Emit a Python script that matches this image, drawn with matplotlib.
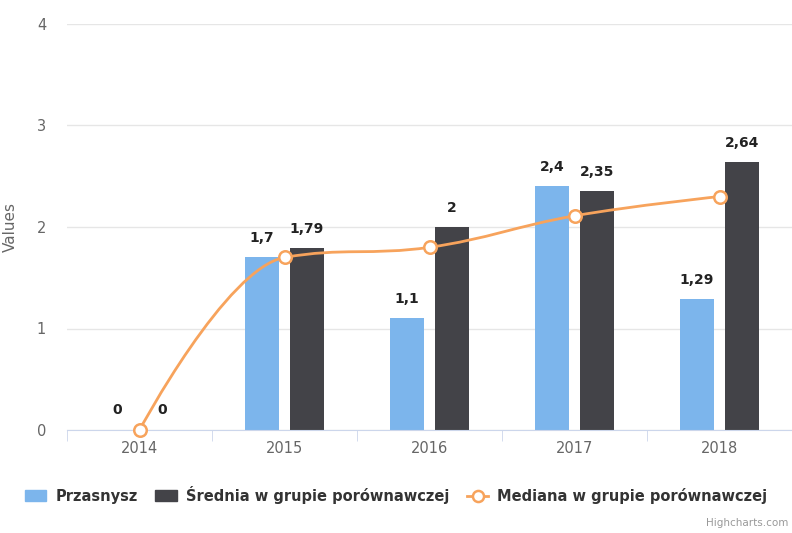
import matplotlib.pyplot as plt
from matplotlib.path import Path
from matplotlib.patches import PathPatch
from matplotlib.lines import Line2D
from matplotlib.patches import Patch
import numpy as np

years = ["2014", "2015", "2016", "2017", "2018"]
przasnysz = [0, 1.7, 1.1, 2.4, 1.29]
srednia = [0, 1.79, 2, 2.35, 2.64]
mediana = [0, 1.70, 1.80, 2.11, 2.30]
labels_p = ["0", "1,7", "1,1", "2,4", "1,29"]
labels_s = ["0", "1,79", "2", "2,35", "2,64"]

blue = "#7cb5ec"
dark = "#434348"
orange = "#f7a35c"


def spline_path(xs, ys, smoothing=1.5):
    # highcharts-like spline control points
    n = len(xs)
    left = [(xs[i], ys[i]) for i in range(n)]
    right = [(xs[i], ys[i]) for i in range(n)]
    d = smoothing + 1
    for i in range(1, n - 1):
        px, py = xs[i], ys[i]
        lx, ly = xs[i - 1], ys[i - 1]
        nx, ny = xs[i + 1], ys[i + 1]
        lcx = (smoothing * px + lx) / d
        lcy = (smoothing * py + ly) / d
        rcx = (smoothing * px + nx) / d
        rcy = (smoothing * py + ny) / d
        corr = (rcy - lcy) * (rcx - px) / (rcx - lcx) + py - rcy
        lcy += corr
        rcy += corr
        if lcy > ly and lcy > py:
            lcy = max(ly, py)
            rcy = 2 * py - lcy
        elif lcy < ly and lcy < py:
            lcy = min(ly, py)
            rcy = 2 * py - lcy
        if rcy > ny and rcy > py:
            rcy = max(ny, py)
            lcy = 2 * py - rcy
        elif rcy < ny and rcy < py:
            rcy = min(ny, py)
            lcy = 2 * py - rcy
        left[i] = (lcx, lcy)
        right[i] = (rcx, rcy)
    verts = [(xs[0], ys[0])]
    codes = [Path.MOVETO]
    for i in range(1, n):
        verts += [right[i - 1], left[i], (xs[i], ys[i])]
        codes += [Path.CURVE4] * 3
    return Path(verts, codes)


fig = plt.figure(figsize=(7.92, 5.33), dpi=100)
ax = fig.add_axes([67 / 792, 103 / 533, 725 / 792, 406 / 533])

x = np.arange(len(years))
w = 0.24
off = 0.155
ax.bar(x - off, przasnysz, w, color=blue, zorder=2)
ax.bar(x + off, srednia, w, color=dark, zorder=2)

for i in range(len(years)):
    ax.annotate(labels_p[i], (x[i] - off, przasnysz[i]), xytext=(0, 9),
                textcoords="offset points", ha="center", va="bottom",
                fontsize=10, fontweight="bold", color="#222222", zorder=5)
    ax.annotate(labels_s[i], (x[i] + off, srednia[i]), xytext=(0, 9),
                textcoords="offset points", ha="center", va="bottom",
                fontsize=10, fontweight="bold", color="#222222", zorder=5)

ax.add_patch(PathPatch(spline_path(list(x), mediana), fill=False,
                       edgecolor=orange, lw=2, zorder=3))
ax.plot(x, mediana, linestyle="none", marker="o", markersize=9,
        markerfacecolor="white", markeredgecolor=orange, markeredgewidth=1.8,
        zorder=4, clip_on=False)

ax.set_xlim(-0.5, len(years) - 0.5)
ax.set_ylim(0, 4)
ax.set_yticks([0, 1, 2, 3, 4])
ax.set_xticks(x)
ax.set_xticklabels(years)
ax.set_xticks(np.arange(-0.5, len(years)), minor=True)
ax.tick_params(axis="x", which="major", length=0, pad=8, labelsize=10.5,
               labelcolor="#666666")
ax.tick_params(axis="x", which="minor", length=8, color="#ccd6eb")
ax.tick_params(axis="y", length=0, pad=15, labelsize=10.5, labelcolor="#666666")
ax.grid(axis="y", color="#e6e6e6", lw=1, zorder=0)
for s in ["top", "right", "left"]:
    ax.spines[s].set_visible(False)
ax.spines["bottom"].set_color("#ccd6eb")
ax.set_ylabel("Values", fontsize=11, color="#666666")
ax.yaxis.set_label_coords(-0.068, 0.5)

handles = [
    Patch(color=blue, label="Przasnysz"),
    Patch(color=dark, label="Średnia w grupie porównawczej"),
    Line2D([], [], color=orange, lw=2, marker="o", markersize=8,
           markerfacecolor="white", markeredgewidth=1.8,
           label="Mediana w grupie porównawczej"),
]
fig.legend(handles=handles, loc="center", bbox_to_anchor=(0.5, 0.072), ncol=3,
           frameon=False, prop={"size": 10.5, "weight": "bold"},
           labelcolor="#333333", handlelength=1.5, columnspacing=1.2,
           handletextpad=0.6)
fig.text(0.995, 0.01, "Highcharts.com", ha="right", va="bottom",
         fontsize=7.5, color="#999999")

plt.savefig("out.png", dpi=100)
